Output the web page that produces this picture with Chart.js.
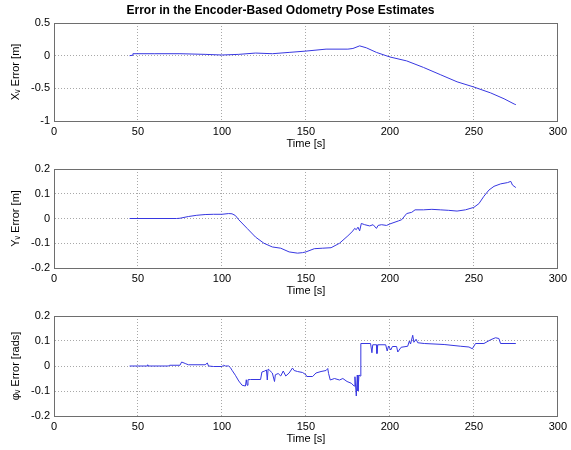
<!DOCTYPE html>
<html>
<head>
<meta charset="utf-8">
<script src="https://cdn.jsdelivr.net/npm/chart.js@4"></script>
<style>
  body { margin: 0; background: #fff; }
  canvas { position: absolute; left: 0; }
</style>
</head>
<body>
<canvas id="c1" width="571" height="151" style="top:0px"></canvas>
<canvas id="c2" width="571" height="147" style="top:151px"></canvas>
<canvas id="c3" width="571" height="148" style="top:298px"></canvas>
<script>
// x position error [m]
var xTime = [45, 46.5, 47, 60, 75, 90, 100, 110, 120, 130, 140, 150, 162, 175, 178, 182, 186, 192, 200, 210, 220, 230, 240, 250, 260, 268, 274, 275];
var xErr  = [0, 0.005, 0.03, 0.03, 0.03, 0.02, 0.01, 0.02, 0.04, 0.03, 0.05, 0.07, 0.1, 0.1, 0.11, 0.15, 0.12, 0.05, -0.02, -0.08, -0.18, -0.29, -0.4, -0.48, -0.57, -0.66, -0.74, -0.75];

// y position error [m]
var yTime = [45, 73, 75, 80, 85, 90, 95, 100, 104, 106, 108, 110, 115, 120, 125, 130, 135, 140, 145, 148, 150, 155, 160, 165, 170, 175, 178, 179, 180, 181, 182, 183, 185, 188, 190, 192, 193, 195, 198, 200, 205, 207, 210, 213, 215, 220, 225, 230, 235, 240, 245, 250, 253, 256, 259, 262, 266, 270, 272, 273, 275];
var yErr  = [0, 0, 0.001, 0.008, 0.013, 0.016, 0.017, 0.017, 0.02, 0.019, 0.012, -0.005, -0.04, -0.075, -0.1, -0.115, -0.12, -0.135, -0.14, -0.138, -0.135, -0.122, -0.12, -0.118, -0.1, -0.07, -0.05, -0.04, -0.045, -0.035, -0.05, -0.02, -0.025, -0.03, -0.025, -0.04, -0.028, -0.025, -0.028, -0.022, -0.01, -0.005, 0.02, 0.025, 0.035, 0.035, 0.037, 0.035, 0.033, 0.03, 0.035, 0.045, 0.06, 0.09, 0.115, 0.13, 0.14, 0.145, 0.15, 0.135, 0.125];

// heading error [rads]
var phiTime = [45, 55.5, 55.8, 56.2, 68, 69, 75, 76, 78.5, 80, 90, 91.3, 92, 95, 100, 101, 102, 104, 105, 106, 108, 110, 112, 114, 114.5, 115, 115.5, 117, 123, 123.8, 125.5, 126.5, 127, 127.5, 128.5, 130, 131.3, 131.8, 133.5, 135, 136.5, 138, 140, 142, 143, 145, 148, 150, 150.5, 154, 156, 159, 162, 163, 163.5, 164.5, 167, 170, 172, 174.5, 177, 178.7, 179.2, 180, 180.6, 181, 181.6, 182.4, 182.7, 188.5, 189.3, 189.8, 192, 192.3, 192.8, 197.5, 198.4, 199.2, 200.5, 201.5, 204, 204.7, 206.7, 210.6, 211.6, 212.3, 213.6, 214.3, 215.6, 216.6, 220.5, 232.3, 242.2, 247.1, 249.1, 251, 256, 260, 262.9, 264.9, 265.9, 275];
var phiErr  = [0, 0, 0.005, 0, 0, 0.003, 0.003, 0.016, 0.009, 0.005, 0.005, 0.012, 0, -0.002, -0.002, 0.003, 0, 0, -0.006, -0.017, -0.037, -0.06, -0.077, -0.08, -0.055, -0.077, -0.055, -0.054, -0.054, -0.024, -0.02, -0.016, -0.056, -0.012, -0.018, -0.028, -0.062, -0.035, -0.03, -0.04, -0.02, -0.04, -0.028, -0.008, -0.018, -0.022, -0.026, -0.035, -0.042, -0.042, -0.028, -0.022, -0.018, -0.01, -0.03, -0.056, -0.05, -0.056, -0.05, -0.062, -0.069, -0.08, -0.043, -0.12, -0.036, -0.1, -0.036, -0.04, 0.09, 0.09, 0.053, 0.085, 0.085, 0.05, 0.085, 0.085, 0.06, 0.08, 0.064, 0.078, 0.078, 0.056, 0.075, 0.079, 0.1, 0.088, 0.123, 0.095, 0.107, 0.093, 0.09, 0.086, 0.079, 0.076, 0.069, 0.09, 0.09, 0.105, 0.113, 0.11, 0.09, 0.09];

var xTicks = [0, 50, 100, 150, 200, 250, 300];

var font = 'Liberation Sans, Arial, sans-serif';
var lineColor = 'rgb(55,55,225)';
var boxColor = '#6e6e6e';
var gridColor = '#a8a8a8';

function pts(t, v) {
  return t.map(function (tt, i) { return { x: tt, y: v[i] }; });
}

function makePanel(id, t, v, yLabel, yMin, yMax, yStep, padTop, title) {
  var ctx = document.getElementById(id).getContext('2d');
  return new Chart(ctx, {
    type: 'line',
    data: {
      datasets: [{
        data: pts(t, v),
        borderColor: lineColor,
        borderWidth: 1,
        pointRadius: 0,
        tension: 0,
        fill: false
      }]
    },
    options: {
      responsive: false,
      devicePixelRatio: 1,
      animation: false,
      layout: { padding: { left: 0, right: 10, top: padTop, bottom: 0 } },
      plugins: {
        legend: { display: false },
        tooltip: { enabled: false },
        title: {
          display: !!title,
          text: title || '',
          color: '#000',
          font: { family: font, size: 12, weight: 'bold', lineHeight: 14 / 12 },
          padding: { top: 4, bottom: 5 }
        }
      },
      scales: {
        x: {
          type: 'linear',
          position: 'bottom',
          min: 0, max: 300,
          afterBuildTicks: function (s) { s.ticks = xTicks.map(function (k) { return { value: k }; }); },
          afterFit: function (s) { s.height = 30; },
          grid: { color: gridColor, drawTicks: false, lineWidth: 1 },
          border: { display: true, color: boxColor, width: 1, dash: [1, 2] },
          ticks: { color: '#000', padding: 4, maxRotation: 0, font: { family: font, size: 11, lineHeight: 1.2 } },
          title: { display: true, text: 'Time [s]', color: '#000', padding: { top: 0, bottom: 0 }, font: { family: font, size: 11, lineHeight: 1.2 } }
        },
        x2: {
          type: 'linear',
          position: 'top',
          min: 0, max: 300,
          afterFit: function (s) { s.height = 0; },
          grid: { display: false },
          ticks: { display: false },
          border: { display: true, color: boxColor, width: 1 }
        },
        y: {
          type: 'linear',
          position: 'left',
          min: yMin, max: yMax,
          afterFit: function (s) { s.width = 54; },
          grid: { color: gridColor, drawTicks: false, lineWidth: 1 },
          border: { display: true, color: boxColor, width: 1, dash: [1, 2] },
          ticks: {
            stepSize: yStep,
            color: '#000',
            padding: 4,
            font: { family: font, size: 11 },
            callback: function (val) { return String(Math.round(val * 100) / 100); }
          },
          title: { display: true, text: yLabel, color: '#000', padding: { top: 9.4, bottom: 0 }, font: { family: font, size: 11, lineHeight: 1.2 } }
        },
        y2: {
          type: 'linear',
          position: 'right',
          min: yMin, max: yMax,
          afterFit: function (s) { s.width = 0; },
          grid: { display: false },
          ticks: { display: false },
          border: { display: true, color: boxColor, width: 1 }
        }
      }
    }
  });
}

makePanel('c1', xTime, xErr, 'X\u1D65 Error [m]', -1, 0.5, 0.5, 0, 'Error in the Encoder-Based Odometry Pose Estimates');
makePanel('c2', yTime, yErr, 'Y\u1D65 Error [m]', -0.2, 0.2, 0.1, 18, null);
makePanel('c3', phiTime, phiErr, '\u03C6\u1D65 Error [rads]', -0.2, 0.2, 0.1, 18, null);
</script>
</body>
</html>
